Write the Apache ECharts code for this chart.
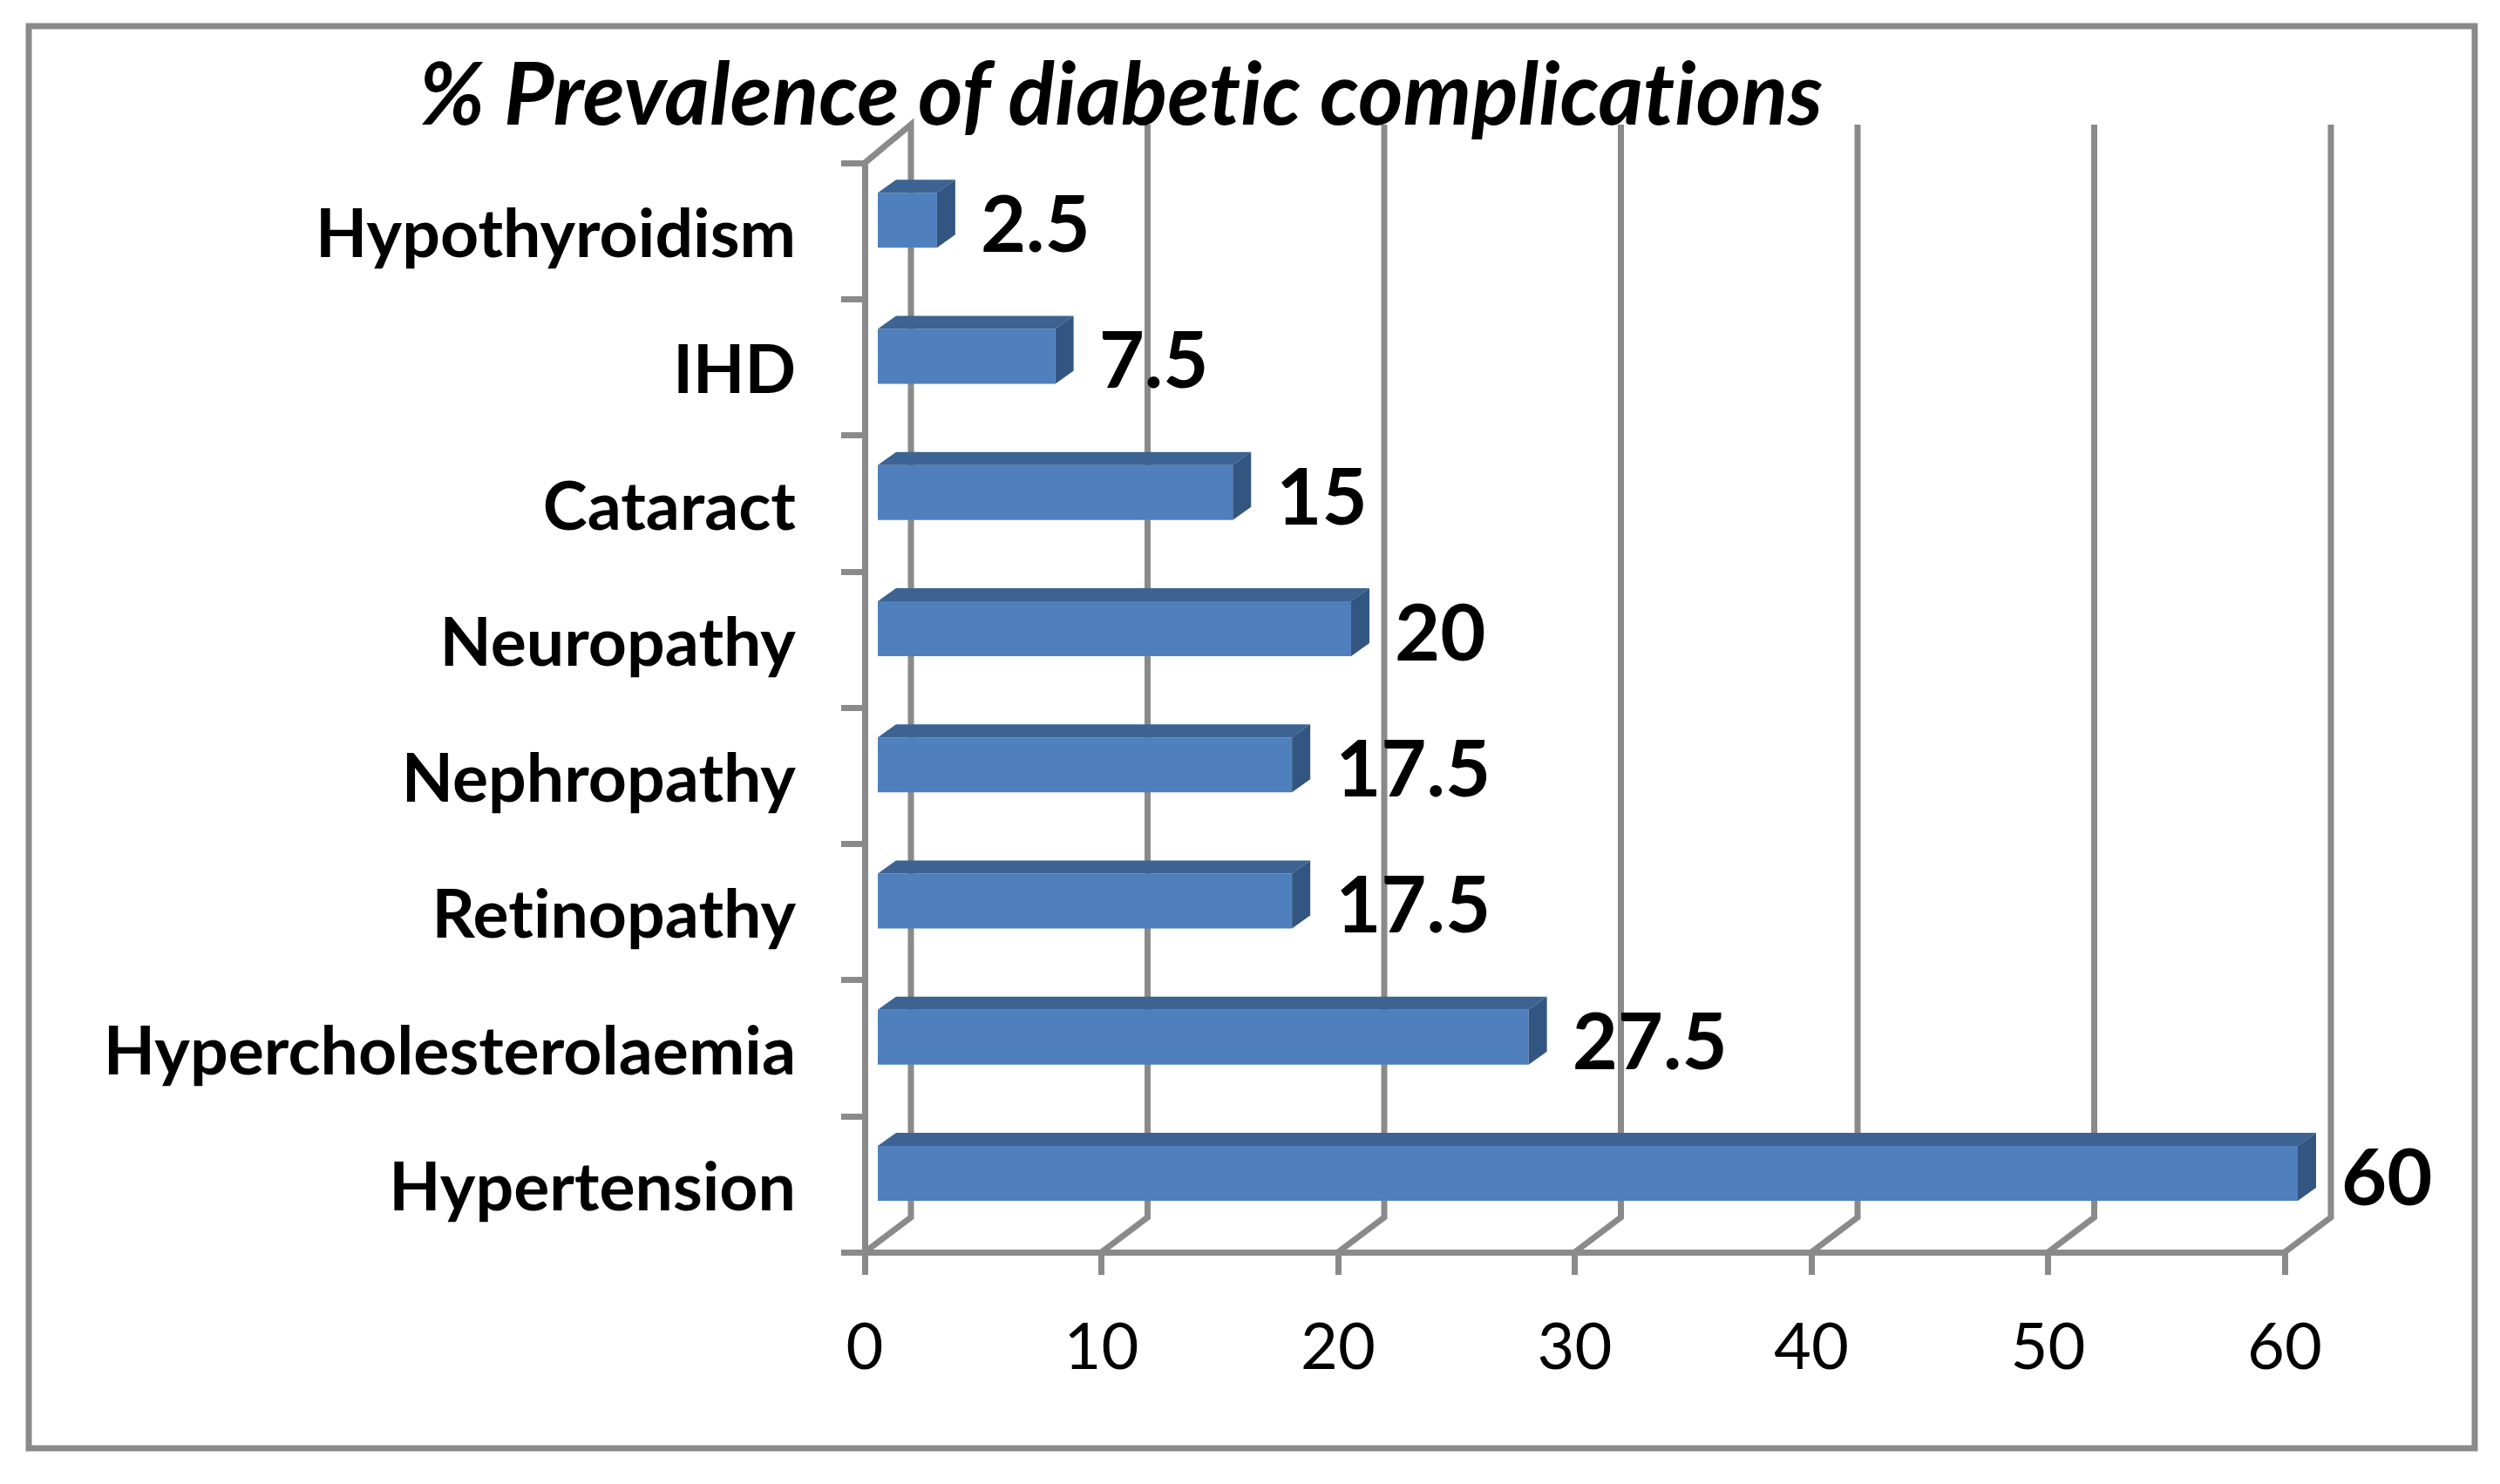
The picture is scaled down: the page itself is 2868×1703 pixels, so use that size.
<!DOCTYPE html>
<html>
<head>
<meta charset="utf-8">
<style>html,body{margin:0;padding:0;background:#fff}#c{width:2868px;height:1703px}text{font-variant-ligatures:none !important}</style>
<script src="https://cdn.jsdelivr.net/npm/echarts@6/dist/echarts.min.js"></script>
</head>
<body>
<div id="c"></div>
<script>
const categories = ['Hypertension','Hypercholesterolaemia','Retinopathy','Nephropathy','Neuropathy','Cataract','IHD','Hypothyroidism'];
const values = [60,27.5,17.5,17.5,20,15,7.5,2.5];
const xTicks = [0,10,20,30,40,50,60];
const titleText = '% Prevalence of diabetic complications';

const GREY = '#8a8a8a';
const FONT = 'Lato';
const chart = echarts.init(document.getElementById('c'), null, { renderer: 'svg' });

function wallItem(params, api) {
  const v = api.value(0);
  const p = api.coord([v, 0]);
  const cs = params.coordSys;
  const x = p[0], bottom = cs.y + cs.height, top = cs.y;
  const pts = [[x, bottom], [x + 53, bottom - 40], [x + 53, top - 44]];
  if (v === 0) pts.push([x, top]);
  return {
    type: 'polyline',
    shape: { points: pts },
    style: { stroke: GREY, lineWidth: 7, fill: null, lineJoin: 'miter' }
  };
}

function barItem(params, api) {
  const p = api.coord([api.value(0), api.value(1)]);
  const zero = api.coord([0, api.value(1)]);
  const h = 63, dx = 21, dy = 15, shift = 15;
  const x0 = zero[0] + shift, x1 = p[0] + shift;
  const y0 = p[1] - 44, y1 = y0 + h;
  const label = String(api.value(0));
  return {
    type: 'group',
    children: [
      { type: 'rect', shape: { x: x0, y: y0, width: x1 - x0, height: h },
        style: { fill: '#4f80bd' } },
      { type: 'polygon', shape: { points: [[x0, y0], [x0 + dx, y0 - dy], [x1 + dx, y0 - dy], [x1, y0]] },
        style: { fill: '#3c6391' } },
      { type: 'polygon', shape: { points: [[x1, y0], [x1 + dx, y0 - dy], [x1 + dx, y1 - dy], [x1, y1]] },
        style: { fill: '#335581' } },
      { type: 'text', x: x1 + dx + 29, y: y0 + 33,
        style: { text: label, fill: '#000', font: 'bold 90px ' + FONT, textAlign: 'left', textVerticalAlign: 'middle' } }
    ]
  };
}

chart.setOption({
  animation: false,
  backgroundColor: '#fff',
  title: {
    text: titleText,
    left: 1281, top: 50, textAlign: 'center',
    textStyle: { fontFamily: FONT, fontWeight: 'bold', fontStyle: 'italic', fontSize: 99, color: '#000' }
  },
  graphic: [{
    type: 'rect', z: -1,
    shape: { x: 33, y: 30, width: 2806, height: 1632 },
    style: { fill: '#fff', stroke: GREY, lineWidth: 7 }
  }],
  grid: { left: 992, top: 187, width: 1629, height: 1250, containLabel: false },
  xAxis: {
    type: 'value', min: 0, max: 60, interval: 10,
    splitLine: { show: false },
    axisLine: { show: true, lineStyle: { color: GREY, width: 7 } },
    axisTick: { show: true, length: 26, lineStyle: { color: GREY, width: 7 } },
    axisLabel: { fontFamily: FONT, fontSize: 74, color: '#000', margin: 68,
      formatter: v => xTicks.includes(v) ? String(v) : '' }
  },
  yAxis: {
    type: 'category', data: categories,
    axisLine: { show: true, lineStyle: { color: GREY, width: 7 } },
    axisTick: { show: true, length: 27, lineStyle: { color: GREY, width: 7 } },
    axisLabel: { fontFamily: FONT, fontSize: 77, fontWeight: 'bold', color: '#000', margin: 79, padding: [10, 0, 0, 0] }
  },
  series: [
    { type: 'custom', coordinateSystem: 'cartesian2d', silent: true, clip: false, z: 1,
      encode: { x: 0, y: -1 }, renderItem: wallItem, data: xTicks.map(v => [v]) },
    { type: 'custom', coordinateSystem: 'cartesian2d', silent: true, clip: false, z: 3,
      encode: { x: 0, y: 1 }, renderItem: barItem, data: values.map((v, i) => [v, i]) }
  ]
});
</script>
</body>
</html>
